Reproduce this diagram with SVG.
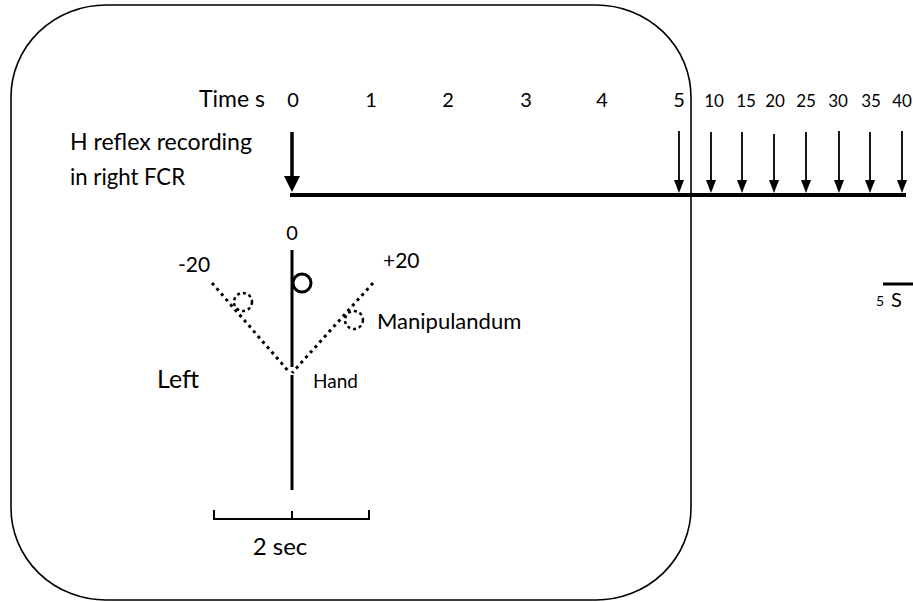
<svg xmlns="http://www.w3.org/2000/svg" width="913" height="602" viewBox="0 0 913 602">
<style>
text{font-family:Lato,"Liberation Sans",sans-serif;fill:#000}
.frame{fill:none;stroke:#000;stroke-width:1.6}
.thin{stroke:#000;stroke-width:2;fill:none}
.dot{stroke:#000;stroke-width:3;fill:none;stroke-dasharray:3 4}
.dotc{stroke:#000;stroke-width:2.5;fill:none;stroke-dasharray:3 3}
.n1{font-size:20px;text-anchor:middle}
.n2{font-size:17px;text-anchor:middle}
</style>
<g id="frame"><rect class="frame" x="11" y="5" width="680" height="595" rx="95" ry="92"/></g>
<g id="labels">
<text x="265" y="107" font-size="23" text-anchor="end">Time s</text>
<text class="n1" x="293" y="107">0</text>
<text class="n1" x="371" y="107">1</text>
<text class="n1" x="448" y="107">2</text>
<text class="n1" x="526" y="107">3</text>
<text class="n1" x="602" y="107">4</text>
<text class="n1" x="679" y="107">5</text>
<text class="n2" x="714" y="107">10</text>
<text class="n2" x="746" y="107">15</text>
<text class="n2" x="775" y="107">20</text>
<text class="n2" x="806" y="107">25</text>
<text class="n2" x="838" y="107">30</text>
<text class="n2" x="871" y="107">35</text>
<text class="n2" x="902" y="107">40</text>
<text x="70" y="150" font-size="23" textLength="182" lengthAdjust="spacingAndGlyphs">H reflex recording</text>
<text x="70" y="185" font-size="23" textLength="115" lengthAdjust="spacingAndGlyphs">in right FCR</text>
</g>
<g id="timeline">
<line x1="290" y1="195" x2="906" y2="195" stroke="#000" stroke-width="4"/>
<line x1="292" y1="132" x2="292" y2="178" stroke="#000" stroke-width="3.5"/>
<path d="M284,176 L300,176 L292,192 z"/>
<g stroke="#000" stroke-width="1.8">
<line x1="679" y1="131" x2="679" y2="182"/>
<line x1="711" y1="132" x2="711" y2="182"/>
<line x1="742" y1="132" x2="742" y2="182"/>
<line x1="774" y1="134" x2="774" y2="182"/>
<line x1="806" y1="132" x2="806" y2="182"/>
<line x1="839" y1="131" x2="839" y2="182"/>
<line x1="870" y1="132" x2="870" y2="182"/>
<line x1="902" y1="131" x2="902" y2="182"/>
</g>
<g>
<path d="M674,180 L684,180 L679,193 z"/>
<path d="M706,180 L716,180 L711,193 z"/>
<path d="M737,180 L747,180 L742,193 z"/>
<path d="M769,180 L779,180 L774,193 z"/>
<path d="M801,180 L811,180 L806,193 z"/>
<path d="M834,180 L844,180 L839,193 z"/>
<path d="M865,180 L875,180 L870,193 z"/>
<path d="M897,180 L907,180 L902,193 z"/>
</g>
</g>
<g id="hand">
<line x1="292" y1="250" x2="292" y2="367" stroke="#000" stroke-width="3"/>
<line x1="292" y1="375" x2="292" y2="490" stroke="#000" stroke-width="3"/>
<circle cx="302" cy="283" r="9" fill="none" stroke="#000" stroke-width="3"/>
<line class="dot" x1="212" y1="283" x2="290" y2="373"/>
<line class="dot" x1="373" y1="283" x2="292" y2="373"/>
<circle class="dotc" cx="243" cy="302" r="9"/>
<circle class="dotc" cx="354" cy="320" r="9"/>
<text x="292" y="240" font-size="20" text-anchor="middle">0</text>
<text x="178" y="272" font-size="21">-20</text>
<text x="383" y="268" font-size="21">+20</text>
<text x="377" y="329" font-size="22">Manipulandum</text>
<text x="157" y="388" font-size="25">Left</text>
<text x="313" y="388" font-size="19">Hand</text>
</g>
<g id="scalebars">
<path class="thin" d="M214,510 V519 H369 V510 M292,519 V511"/>
<text x="280" y="555" font-size="24" text-anchor="middle">2 sec</text>
<line x1="883" y1="284" x2="913" y2="284" stroke="#000" stroke-width="3"/>
<text x="876" y="306" font-size="14">5</text>
<text x="891" y="307" font-size="20">S</text>
</g>
</svg>
